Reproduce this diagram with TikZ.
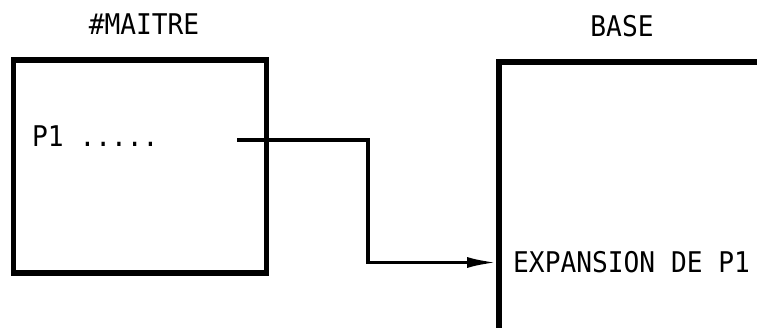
\documentclass[tikz,border=0pt]{standalone}
\usepackage{fontspec}
\newfontfamily\typ{DejaVu Sans Mono}
\usetikzlibrary{arrows.meta}
\tikzset{
  lbl/.style={inner sep=0pt, font=\typ\fontsize{28.5}{28.5}\selectfont, xscale=0.92},
  boxline/.style={line width=5.5pt},
  wire/.style={line width=3.4pt},
  tip/.style={-{Latex[length=30pt,width=11pt]}}
}
\begin{document}
\begin{tikzpicture}[x=1pt,y=-1pt]
\useasboundingbox (0,0) rectangle (757,328);
% master box
\node[draw, boxline, minimum width=253pt, minimum height=213pt, inner sep=0pt] (maitre) at (140,166.5) {};
\node[lbl, anchor=base] (tmaitre) at (144,35) {\#MAITRE};
\node[lbl, anchor=base west] (p1) at (32,147) {P1 .....};
\coordinate (start) at (237,140);
% base box (open)
\coordinate (bl) at (499,328);
\coordinate (tl) at (499,62);
\coordinate (tr) at (757,62);
\draw[boxline] (bl) -- (tl) -- (tr);
\node[lbl, anchor=base] (tbase) at (622,37) {BASE};
\node[lbl, anchor=base west] (exp) at (513,273) {EXPANSION DE P1};
\coordinate (entry) at (497,262.5);
\draw[wire, tip] (start) -- (368,140) |- (entry);
\end{tikzpicture}
\end{document}
